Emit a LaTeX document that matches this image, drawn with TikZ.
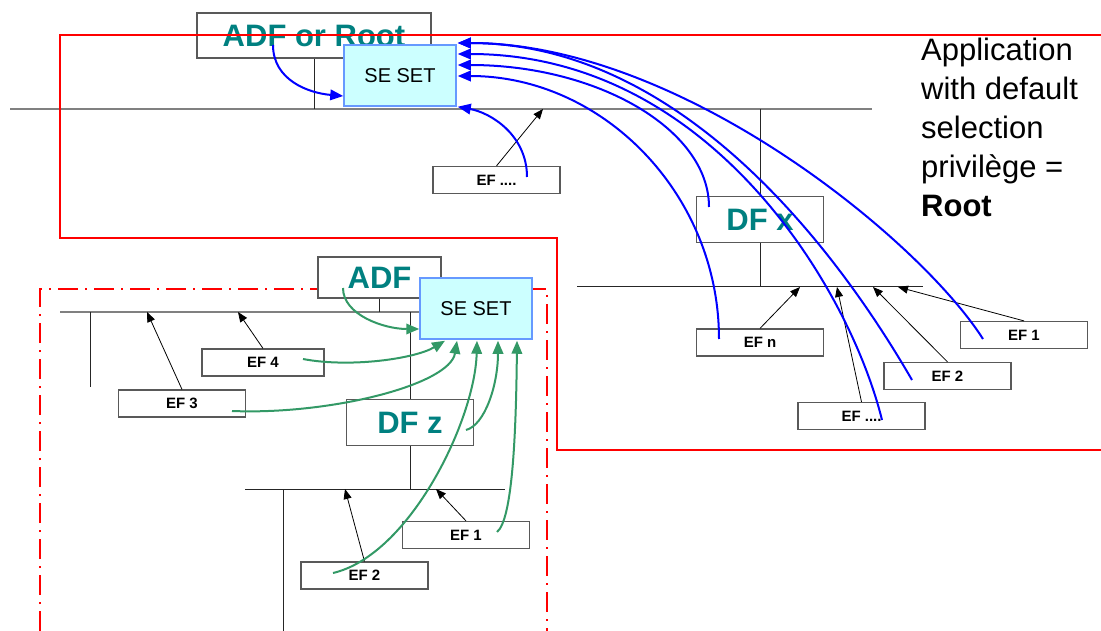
\documentclass[tikz,border=0pt]{standalone}
\usepackage{fontspec}
\setmainfont{Liberation Sans}
\usepackage{tikz}
\usetikzlibrary{arrows.meta,positioning}
\definecolor{tealx}{HTML}{008080}
\definecolor{bluex}{HTML}{0000FF}
\definecolor{greenx}{HTML}{339966}
\definecolor{redx}{HTML}{FF0000}
\definecolor{cyanbg}{HTML}{CCFFFF}
\definecolor{cyanln}{HTML}{6699FF}
\definecolor{boxln}{HTML}{595959}
\tikzset{
  efbox/.style={draw=boxln,line width=1.2pt,fill=white,minimum width=127pt,minimum height=27pt,inner sep=0pt,font=\fontsize{15}{17}\selectfont\bfseries},
  dfbox/.style={draw=boxln,line width=1.2pt,fill=white,minimum width=127pt,minimum height=46pt,inner sep=0pt,text=tealx,font=\fontsize{31}{37}\selectfont\bfseries},
  sebox/.style={draw=cyanln,line width=1.5pt,fill=cyanbg,minimum width=112pt,minimum height=61pt,inner sep=0pt,font=\fontsize{20}{24}\selectfont},
  tree/.style={line width=1pt,black!85},
  bus/.style={line width=1.6pt,gray},
  ptr/.style={-{Triangle[length=10pt,width=8pt]},line width=0.8pt},
  bl/.style={-{Triangle[length=13pt,width=10.5pt]},line width=2pt,bluex},
  gr/.style={-{Triangle[length=13pt,width=10.5pt]},line width=2pt,greenx}
}
\begin{document}
\begin{tikzpicture}[x=1pt,y=-1pt]
\useasboundingbox (0,0) rectangle (1101,631);
% buses drawn below the boxes
\draw[bus] (10,109) coordinate (busA) -- (872,109);
\draw[tree] (577,287) coordinate (busC) -- (923,287);
\draw[bus] (60,312) coordinate (busB) -- (430,312);
\draw[tree] (245,489) coordinate (busD) -- (505,489);
\draw[tree] (90,312) -- (90,387);
\draw[tree] (283,489) -- (283,631);
\draw[redx,line width=2pt,dash pattern=on 20pt off 7pt on 2pt off 7pt] (40,631) -- (40,289) -- (547,289) -- (547,631);

% application with root privilege
\node[dfbox,minimum width=234pt,minimum height=45pt] (root) at (314,35.5) {ADF or Root};
\node[sebox] (seA) at (400,75.5) {SE SET};
\node[efbox] (efdots) at (496.5,180) {EF ....};
\node[dfbox] (dfx) at (760,219.5) {DF x};
\node[efbox] (efn) at (760,342.5) {EF n};
\node[efbox] (efdotsx) at (861.5,416) {EF ....};
\node[efbox] (efii) at (947.5,376) {EF 2};
\node[efbox] (efi) at (1024,335) {EF 1};

% application with its own ADF
\node[dfbox,minimum width=123pt,minimum height=41pt] (adf) at (379.5,277.5) {ADF};
\node[sebox] (seB) at (476,308.5) {SE SET};
\node[efbox,minimum width=122pt] (efiv) at (263,362.5) {EF 4};
\node[efbox] (efiii) at (182,403.5) {EF 3};
\node[dfbox] (dfz) at (410,422.5) {DF z};
\node[efbox] (efiz) at (466,535) {EF 1};
\node[efbox] (efiiz) at (364.5,575.5) {EF 2};

\node[anchor=north west,align=left,inner sep=0pt,font=\fontsize{31}{39}\selectfont] (note) at (921,38) {Application\\with default\\selection\\privilège =\\\textbf{Root}};

\draw[tree] (root.south) -- (root.south |- busA);
\draw[tree] (dfx.north |- busA) -- (dfx.north);
\draw[tree] (dfx.south) -- (dfx.south |- busC);
\draw[tree] (adf.south) -- (adf.south |- busB);
\draw[tree] (dfz.north |- busB) -- (dfz.north);
\draw[tree] (dfz.south) -- (dfz.south |- busD);

\draw[redx,line width=2pt] (1101,35) -- (60,35) -- (60,238) -- (557,238) -- (557,450) -- (1101,450);

% EF to parent
\coordinate (hA) at (543,109);
\coordinate (hn) at (800,287);
\coordinate (hdots) at (837,287);
\coordinate (hii) at (873,287);
\coordinate (hi) at (898,287);
\coordinate (hiv) at (238,312);
\coordinate (hiii) at (147,312);
\coordinate (hiz) at (436,489);
\coordinate (hiiz) at (345,489);
\draw[ptr] (efdots.north) -- (hA);
\draw[ptr] (efn.north) -- (hn);
\draw[ptr] (efdotsx.north) -- (hdots);
\draw[ptr] (efii.north) -- (hii);
\draw[ptr] (efi.north) -- (hi);
\draw[ptr] (efiv.north) -- (hiv);
\draw[ptr] (efiii.north) -- (hiii);
\draw[ptr] (efiz.north) -- (hiz);
\draw[ptr] (efiiz.north) -- (hiiz);

% selection to SE SET, root
\draw[bl] ([shift={(-41,9.5)}]root.center) .. controls +(0,35) and +(-35,-3) .. ([shift={(0,20.5)}]seA.west);
\draw[bl] ([shift={(30.5,-3)}]efdots.center) .. controls +(0,-42) and +(33,6) .. ([shift={(1,0)}]seA.south east);
\draw[bl] ([shift={(-51,-12.5)}]dfx.center) .. controls +(0,-78) and +(139,0) .. ([shift={(1,-10.5)}]seA.east);
\draw[bl] ([shift={(-41,-3.5)}]efn.center) .. controls +(0,-145) and +(145,0) .. ([shift={(1,0.5)}]seA.east);
\draw[bl] ([shift={(20.5,4)}]efdotsx.center) .. controls +(-32,-130) and +(253,0) .. ([shift={(1,-21.5)}]seA.east);
\draw[bl] ([shift={(-35.5,4)}]efii.center) .. controls +(-52,-90) and +(243,0) .. ([shift={(1,-32.5)}]seA.east);
\draw[bl] ([shift={(-41,4)}]efi.center) .. controls +(-63,-99) and +(223,0) .. ([shift={(1,-32.5)}]seA.east);

% selection to SE SET, ADF
\draw[gr] ([shift={(-36.5,10.5)}]adf.center) .. controls +(0,27) and +(-35,0) .. ([shift={(0,20.5)}]seB.west);
\draw[gr] ([shift={(40,-3.5)}]efiv.center) .. controls +(47,9) and +(-30,18) .. ([shift={(-31,1)}]seB.south);
\draw[gr] ([shift={(50,7.5)}]efiii.center) .. controls +(98,4) and +(-7,44) .. ([shift={(-19,1)}]seB.south);
\draw[gr] ([shift={(-31.5,-2.5)}]efiiz.center) .. controls +(77,-18) and +(-2,79) .. ([shift={(1,1)}]seB.south);
\draw[gr] ([shift={(56,7.5)}]dfz.center) .. controls +(19,-5) and +(0,44) .. ([shift={(22,1)}]seB.south);
\draw[gr] ([shift={(31,-3)}]efiz.center) .. controls +(15,-12) and +(-1,99) .. ([shift={(41,1)}]seB.south);
\end{tikzpicture}
\end{document}
